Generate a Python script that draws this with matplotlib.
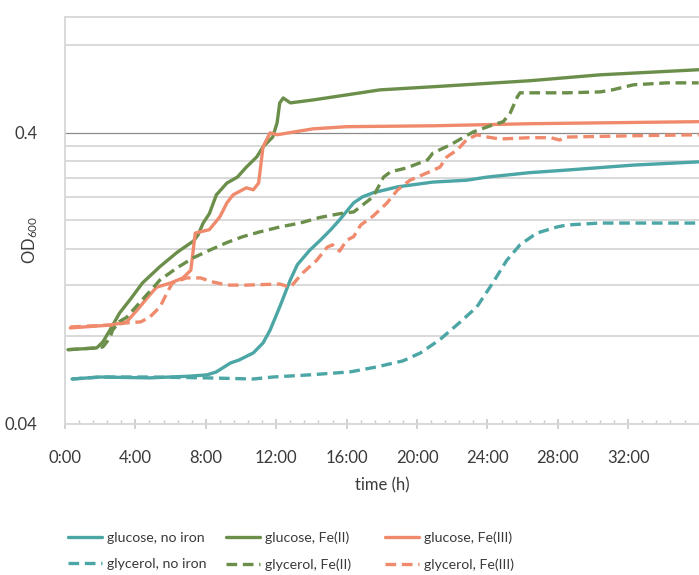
import matplotlib
matplotlib.use("Agg")
import matplotlib.pyplot as plt
from matplotlib.ticker import FixedLocator, NullFormatter

plt.rcParams["font.family"] = ["Lato", "DejaVu Sans"]
plt.rcParams["mathtext.default"] = "regular"

# Growth curves: time in hours, OD600 readings
t_glc_none = [0.4, 2.0, 4.8, 7.1, 8.07, 8.6, 9.4, 9.9, 10.7, 11.25, 11.65, 12.2, 12.8,
              13.2, 13.9, 14.5, 15.1, 15.6, 16.4, 16.9, 17.5, 18.9, 20.9, 22.8, 24.0,
              26.4, 28.5, 32.3, 36.0]
od_glc_none = [0.0571, 0.058, 0.0576, 0.0584, 0.059, 0.0604, 0.0648, 0.0664, 0.0702,
               0.0759, 0.084, 0.101, 0.125, 0.141, 0.158, 0.171, 0.186, 0.201, 0.23,
               0.241, 0.249, 0.261, 0.271, 0.275, 0.282, 0.292, 0.298, 0.31, 0.318]

t_gly_none = [0.4, 2.0, 4.8, 8.1, 10.7, 11.8, 13.9, 16.2, 17.7, 19.2, 20.2, 21.3, 22.4,
              23.4, 24.3, 25.1, 25.85, 26.8, 27.95, 28.5, 30.4, 36.0]
od_gly_none = [0.0571, 0.058, 0.058, 0.0576, 0.0571, 0.058, 0.059, 0.0604, 0.0628,
               0.0659, 0.0702, 0.078, 0.089, 0.101, 0.122, 0.146, 0.165, 0.181, 0.19,
               0.193, 0.196, 0.196]

t_glc_fe2 = [0.17, 1.8, 2.15, 2.55, 3.1, 3.7, 4.4, 5.4, 6.4, 7.3, 7.55, 7.85, 8.2, 8.6,
             9.2, 9.8, 10.3, 10.9, 11.25, 11.8, 12.05, 12.2, 12.4, 12.8, 14.1, 16.0,
             17.9, 20.9, 26.4, 30.4, 36.0]
od_glc_fe2 = [0.072, 0.073, 0.0765, 0.084, 0.0962, 0.107, 0.122, 0.139, 0.156, 0.17,
              0.178, 0.196, 0.211, 0.245, 0.269, 0.282, 0.305, 0.331, 0.358, 0.387,
              0.433, 0.507, 0.527, 0.507, 0.519, 0.54, 0.562, 0.576, 0.604, 0.633,
              0.659]

t_gly_fe2 = [0.17, 1.8, 2.15, 2.55, 2.7, 3.1, 3.5, 4.4, 5.4, 6.4, 7.3, 8.2, 9.2, 10.1,
             11.1, 12.2, 13.35, 14.5, 15.6, 16.4, 17.5, 18.1, 18.5, 19.4, 20.6, 20.9,
             21.9, 22.6, 23.2, 24.3, 24.9, 25.3, 25.7, 25.85, 28.5, 30.4, 31.1, 32.3,
             34.2, 36.0]
od_gly_fe2 = [0.072, 0.073, 0.0736, 0.079, 0.084, 0.09, 0.093, 0.107, 0.125, 0.138,
              0.149, 0.158, 0.168, 0.176, 0.183, 0.19, 0.196, 0.205, 0.211, 0.214,
              0.241, 0.282, 0.294, 0.303, 0.323, 0.341, 0.364, 0.385, 0.403, 0.426,
              0.437, 0.469, 0.532, 0.549, 0.549, 0.553, 0.562, 0.585, 0.594, 0.594]

t_glc_fe3 = [0.3, 2.6, 3.5, 4.1, 4.7, 5.2, 6.0, 6.7, 7.15, 7.4, 7.7, 8.2, 8.8, 9.2,
             9.55, 10.3, 10.7, 11.0, 11.25, 11.65, 12.05, 14.1, 16.0, 20.9, 26.4, 36.0]
od_glc_fe3 = [0.0855, 0.0875, 0.0897, 0.0985, 0.109, 0.118, 0.122, 0.127, 0.135, 0.181,
              0.183, 0.186, 0.206, 0.23, 0.245, 0.259, 0.255, 0.269, 0.358, 0.40,
              0.394, 0.413, 0.42, 0.423, 0.43, 0.437]

t_gly_fe3 = [0.3, 2.6, 3.5, 4.3, 4.8, 5.4, 5.8, 6.1, 6.9, 7.7, 8.4, 9.2, 10.3, 12.2,
             12.8, 13.5, 14.3, 14.9, 15.2, 15.6, 16.0, 16.4, 16.8, 17.5, 18.3, 18.9,
             19.6, 20.6, 21.3, 21.7, 22.3, 22.8, 23.4, 24.0, 24.7, 26.4, 27.6, 28.1,
             28.5, 32.3, 36.0]
od_gly_fe3 = [0.0862, 0.0875, 0.089, 0.0897, 0.093, 0.101, 0.113, 0.122, 0.127, 0.127,
              0.123, 0.12, 0.12, 0.121, 0.118, 0.132, 0.146, 0.162, 0.165, 0.157,
              0.171, 0.176, 0.193, 0.207, 0.23, 0.255, 0.275, 0.292, 0.305, 0.331,
              0.35, 0.378, 0.394, 0.387, 0.381, 0.385, 0.385, 0.378, 0.387, 0.391,
              0.394]

labels = ["glucose, no iron", "glucose, Fe(II)", "glucose, Fe(III)",
          "glycerol, no iron", "glycerol, Fe(II)", "glycerol, Fe(III)"]
x_ticks = [0, 4, 8, 12, 16, 20, 24, 28, 32]
x_tick_labels = ["0:00", "4:00", "8:00", "12:00", "16:00", "20:00", "24:00", "28:00", "32:00"]
y_ticks = [0.04, 0.4]
y_tick_labels = ["0.04", "0.4"]
y_grid = [0.08, 0.12, 0.16, 0.20, 0.24, 0.28, 0.32, 0.36, 0.8]

TEAL = "#4ba6a5"
GREEN = "#6b8f4a"
SALMON = "#f08a6c"
TEXT = "#3a3a3a"
GRID = "#d9d9d9"

W, H = 699, 575
fig = plt.figure(figsize=(W / 100, H / 100), dpi=100)
ax = fig.add_axes([65 / W, (H - 424) / H, (W - 65) / W, (424 - 17) / H])

lw = 2.4
dash = (3.2, 1.7)
series = [
    (t_glc_none, od_glc_none, TEAL, "-"),
    (t_glc_fe2, od_glc_fe2, GREEN, "-"),
    (t_glc_fe3, od_glc_fe3, SALMON, "-"),
    (t_gly_none, od_gly_none, TEAL, "--"),
    (t_gly_fe2, od_gly_fe2, GREEN, "--"),
    (t_gly_fe3, od_gly_fe3, SALMON, "--"),
]
handles = []
for (t, od, c, ls), lab in zip(series, labels):
    ln, = ax.plot(t, od, color=c, lw=lw, solid_joinstyle="round",
                  solid_capstyle="round", dash_capstyle="butt",
                  dash_joinstyle="round", label=lab, zorder=3)
    if ls == "--":
        ln.set_dashes(dash)
    handles.append(ln)

ax.set_yscale("log")
ax.set_ylim(0.04, 1.0)
ax.set_xlim(0, 36.02)

ax.yaxis.set_major_locator(FixedLocator(y_ticks))
ax.set_yticklabels(y_tick_labels)
ax.yaxis.set_minor_locator(FixedLocator(y_grid))
ax.yaxis.set_minor_formatter(NullFormatter())
ax.tick_params(axis="y", which="both", length=0, pad=20, labelsize=12, labelcolor=TEXT)
ax.grid(axis="y", which="minor", color=GRID, lw=1.4, zorder=0)
ax.grid(axis="y", which="major", color="#8a8a8a", lw=0.9, zorder=1)

ax.set_xticks(x_ticks)
ax.set_xticklabels(x_tick_labels)
ax.set_xticks([i * 0.8 for i in range(46)], minor=True)
ax.tick_params(axis="x", which="major", direction="inout", length=7.5, width=1.2,
               color="#c8c8c8", pad=15, labelsize=12, labelcolor=TEXT)
ax.tick_params(axis="x", which="minor", direction="in", length=3, width=1.0,
               color="#c8c8c8")

for side in ["left", "bottom", "top"]:
    ax.spines[side].set_color(GRID)
    ax.spines[side].set_linewidth(1.4)
ax.spines["right"].set_visible(False)

ax.set_xlabel("time (h)", fontsize=12, color=TEXT, labelpad=8)
fig.text(30 / W, 1 - 240 / H, "OD$_{600}$", rotation=90, ha="center", va="center",
         fontsize=12, color=TEXT)

# Legend: three columns, solid glucose row above dashed glycerol row
col_x = [68, 226, 385]
for i, x0 in enumerate(col_x):
    fig.legend([handles[i], handles[i + 3]], [labels[i], labels[i + 3]],
               loc="center left", bbox_to_anchor=(x0 / W, 1 - 551 / H),
               frameon=False, fontsize=10.2, handlelength=2.4, handletextpad=0.35,
               labelspacing=1.05, borderpad=0, borderaxespad=0, labelcolor=TEXT)

fig.savefig("out.png", dpi=100)
